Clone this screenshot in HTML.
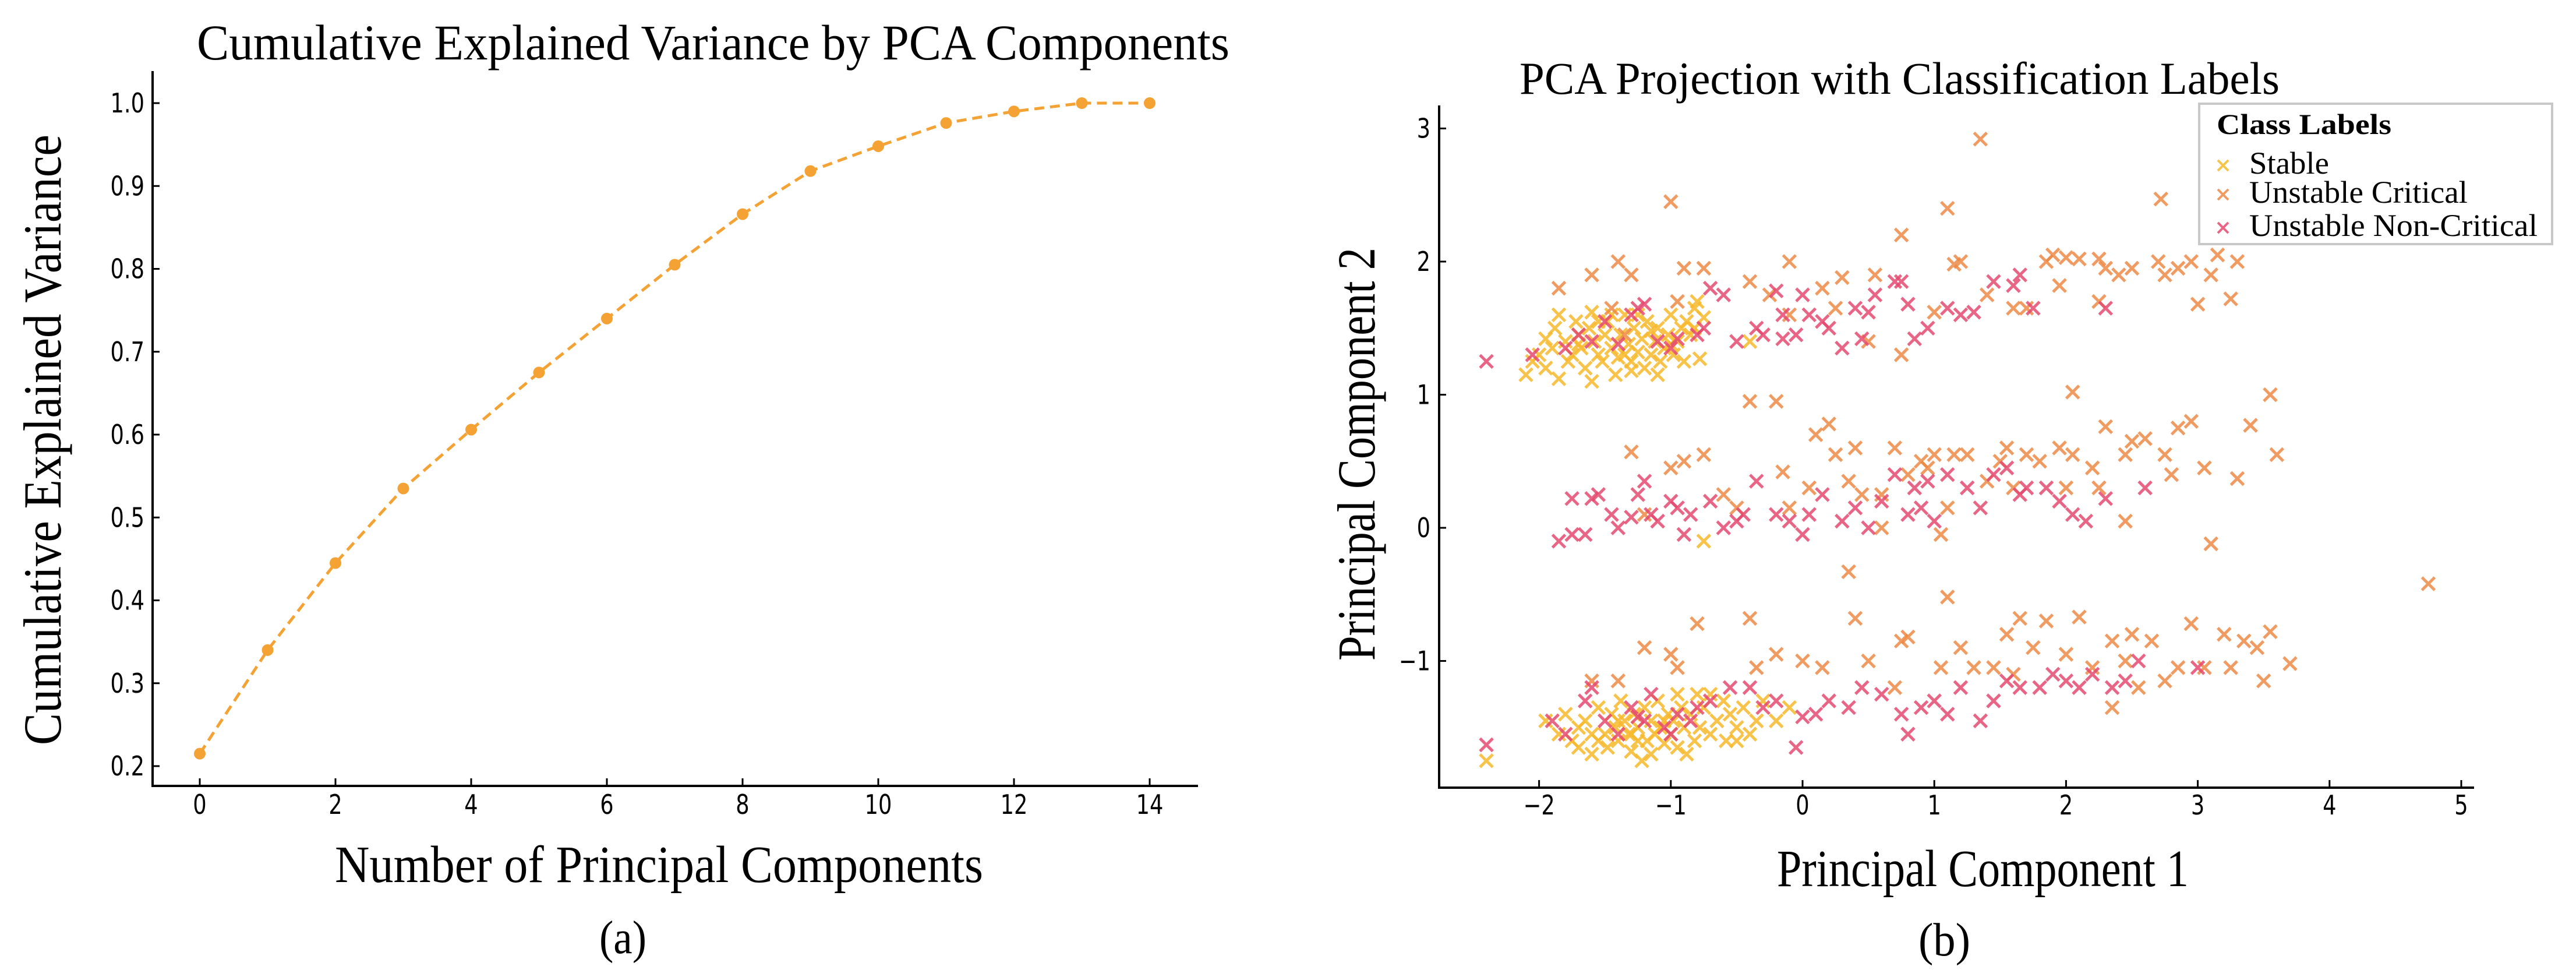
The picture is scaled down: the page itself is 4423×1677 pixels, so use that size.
<!DOCTYPE html>
<html><head><meta charset="utf-8"><style>
html,body{margin:0;padding:0;background:#fff;}
svg{display:block;}
.serif{font-family:"Liberation Serif",serif;fill:#000;}
.sans{font-family:"DejaVu Sans","Liberation Sans",sans-serif;fill:#000;}
</style></head><body>
<svg id="fig" width="4423" height="1677" viewBox="0 0 4423 1677" xmlns="http://www.w3.org/2000/svg">
<g id="chartA"></g>
<g id="chartB"></g>
</svg>
<script>
// ---------- Chart A data ----------
const compIdx = [0,1,2,3,4,5,6,7,8,9,10,11,12,13,14];
const cumVar = [0.215,0.34,0.445,0.535,0.606,0.675,0.74,0.805,0.866,0.918,0.948,0.976,0.99,1.0,1.0];
const aXTicks = [0,2,4,6,8,10,12,14];
const aYTicks = ["0.2","0.3","0.4","0.5","0.6","0.7","0.8","0.9","1.0"];
// ---------- Chart B data ----------
const bXTicks = ["-2","-1","0","1","2","3","4","5"];
const bYTicks = ["-1","0","1","2","3"];
const classNames = ["Stable","Unstable Critical","Unstable Non-Critical"];
const stablePts = [[-2.1,1.15],[-2.05,1.25],[-2.0,1.3],[-1.95,1.2],[-1.9,1.35],[-1.88,1.5],[-1.85,1.6],[-1.8,1.4],[-1.78,1.25],[-1.75,1.3],[-1.72,1.55],[-1.7,1.45],[-1.68,1.35],[-1.65,1.2],[-1.62,1.5],[-1.6,1.62],[-1.58,1.4],[-1.55,1.3],[-1.52,1.25],[-1.5,1.45],[-1.48,1.55],[-1.45,1.35],[-1.42,1.15],[-1.4,1.28],[-1.38,1.45],[-1.35,1.6],[-1.32,1.38],[-1.3,1.25],[-1.28,1.5],[-1.25,1.32],[-1.22,1.42],[-1.2,1.2],[-1.18,1.55],[-1.15,1.3],[-1.12,1.4],[-1.1,1.5],[-1.08,1.25],[-1.05,1.35],[-1.02,1.45],[-1.0,1.6],[-0.98,1.3],[-0.95,1.4],[-0.92,1.5],[-0.9,1.25],[-0.88,1.55],[-0.85,1.45],[-0.82,1.65],[-0.8,1.7],[-0.78,1.27],[-0.75,1.58],[-1.6,1.1],[-1.85,1.12],[-1.3,1.18],[-1.1,1.15],[-0.4,1.4],[-1.45,1.6],[-1.7,1.38],[-1.25,1.6],[-1.95,1.42],[-1.55,1.55],[-0.82,1.5],[-1.0,1.38],[-1.15,1.48],[-1.35,1.3],
[-0.75,-0.1],
[-2.4,-1.75],[-1.95,-1.45],[-1.85,-1.55],[-1.8,-1.4],[-1.75,-1.6],[-1.7,-1.5],[-1.65,-1.45],[-1.6,-1.7],[-1.55,-1.35],[-1.5,-1.55],[-1.48,-1.65],[-1.45,-1.4],[-1.42,-1.5],[-1.4,-1.6],[-1.38,-1.3],[-1.35,-1.45],[-1.32,-1.55],[-1.3,-1.68],[-1.28,-1.4],[-1.25,-1.5],[-1.22,-1.75],[-1.2,-1.35],[-1.18,-1.6],[-1.15,-1.45],[-1.12,-1.55],[-1.1,-1.3],[-1.08,-1.5],[-1.05,-1.62],[-1.02,-1.4],[-1.0,-1.55],[-0.98,-1.45],[-0.95,-1.65],[-0.92,-1.35],[-0.9,-1.5],[-0.88,-1.7],[-0.85,-1.4],[-0.82,-1.6],[-0.8,-1.25],[-0.78,-1.5],[-0.75,-1.35],[-0.7,-1.55],[-0.65,-1.45],[-0.6,-1.3],[-0.58,-1.6],[-0.55,-1.4],[-0.5,-1.5],[-0.45,-1.35],[-0.4,-1.55],[-0.35,-1.45],[-0.3,-1.3],[-0.2,-1.45],[-0.1,-1.35],[-1.6,-1.55],[-1.3,-1.55],[-1.15,-1.7],[-1.4,-1.45],[-0.95,-1.25],[-1.05,-1.45],[-1.25,-1.6],[-0.7,-1.25],[-0.5,-1.6],[-1.7,-1.65],[-1.55,-1.6]];
const criticalPts = [[-1.85,1.8],[-1.6,1.9],[-1.4,2.0],[-1.3,1.9],[-1.0,2.45],[-0.9,1.95],[-0.75,1.95],[-0.95,1.7],[-0.4,1.85],[-0.1,2.0],[-0.25,1.75],[0.15,1.8],[0.25,1.65],[0.55,1.9],[0.3,1.88],[0.75,2.2],[0.75,1.3],[1.1,2.4],[1.2,2.0],[1.15,1.98],[1.35,2.92],[1.4,1.75],[1.6,1.65],[1.7,1.65],[1.85,2.0],[1.95,1.82],[2.0,2.03],[2.1,2.02],[2.25,2.02],[2.25,1.7],[2.4,1.9],[2.5,1.95],[2.7,2.0],[2.72,2.47],[2.75,1.9],[2.85,1.95],[3.0,1.68],[3.1,1.9],[3.15,2.05],[3.3,2.0],[3.25,1.72],[2.95,2.0],[-1.45,1.65],[0.5,1.4],[1.0,1.62],[-0.1,1.6],[-1.35,1.45],[2.3,1.95],[1.9,2.05],
[-1.3,0.57],[-1.2,0.1],[-1.0,0.45],[-0.9,0.5],[-0.75,0.55],[-0.6,0.25],[-0.4,0.95],[-0.2,0.95],[-0.15,0.42],[-0.1,0.15],[0.05,0.3],[0.1,0.7],[0.2,0.78],[0.25,0.55],[0.35,0.35],[0.4,0.6],[0.45,0.25],[0.6,0.25],[0.7,0.6],[0.8,0.4],[0.9,0.5],[0.95,0.45],[1.0,0.55],[1.05,-0.05],[1.15,0.55],[1.25,0.55],[1.4,0.35],[1.5,0.5],[1.55,0.6],[1.6,0.3],[1.7,0.55],[1.8,0.5],[1.95,0.6],[2.05,0.55],[2.05,1.02],[2.2,0.45],[2.25,0.3],[2.3,0.76],[2.45,0.55],[2.5,0.65],[2.6,0.67],[2.75,0.55],[2.85,0.75],[2.95,0.8],[3.05,0.45],[3.1,-0.12],[3.3,0.37],[3.4,0.77],[3.6,0.55],[3.55,1.0],[2.8,0.4],[2.45,0.05],[0.35,-0.33],[0.4,-0.68],[1.1,0.15],[2.0,0.3],[-0.5,0.15],[0.6,0.0],
[-1.6,-1.15],[-1.4,-1.15],[-1.2,-0.9],[-1.0,-0.95],[-0.95,-1.05],[-0.8,-0.72],[-0.4,-0.68],[-0.35,-1.05],[-0.2,-0.95],[0.0,-1.0],[0.15,-1.05],[0.5,-1.0],[0.75,-0.85],[0.8,-0.82],[1.1,-0.52],[1.05,-1.05],[1.2,-0.9],[1.3,-1.05],[1.45,-1.05],[1.55,-0.8],[1.65,-0.68],[1.75,-0.9],[1.85,-0.7],[2.0,-0.95],[2.1,-0.67],[2.35,-1.35],[2.35,-0.85],[2.45,-1.0],[2.5,-0.8],[2.55,-1.2],[2.65,-0.85],[2.75,-1.15],[2.85,-1.05],[2.95,-0.72],[3.05,-1.05],[3.2,-0.8],[3.25,-1.05],[3.35,-0.85],[3.45,-0.9],[3.5,-1.15],[3.55,-0.78],[3.7,-1.02],[4.75,-0.42],[0.7,-1.2],[1.6,-1.1],[2.2,-1.05]];
const nonCriticalPts = [[-2.4,1.25],[-2.05,1.3],[-1.8,1.35],[-1.6,1.4],[-1.5,1.55],[-1.3,1.6],[-1.25,1.65],[-1.2,1.68],[-1.4,1.38],[-1.0,1.35],[-0.95,1.42],[-0.75,1.5],[-0.7,1.8],[-0.6,1.75],[-0.5,1.4],[-0.35,1.5],[-0.3,1.45],[-0.2,1.78],[-0.15,1.6],[-0.15,1.42],[0.0,1.75],[0.05,1.6],[0.15,1.55],[0.2,1.5],[0.3,1.35],[0.4,1.65],[0.5,1.62],[0.45,1.42],[0.55,1.75],[0.7,1.85],[0.75,1.85],[0.8,1.68],[0.85,1.42],[0.95,1.5],[1.1,1.65],[1.2,1.6],[1.3,1.62],[1.45,1.85],[1.6,1.82],[1.65,1.9],[1.75,1.65],[2.3,1.65],[-1.1,1.4],[-0.8,1.45],[-1.7,1.45],[-0.05,1.45],
[-1.85,-0.1],[-1.75,-0.05],[-1.65,-0.05],[-1.75,0.22],[-1.6,0.22],[-1.55,0.25],[-1.45,0.1],[-1.4,0.0],[-1.3,0.08],[-1.25,0.25],[-1.2,0.35],[-1.15,0.1],[-1.1,0.05],[-1.0,0.2],[-0.95,0.15],[-0.9,-0.05],[-0.85,0.1],[-0.7,0.2],[-0.6,0.0],[-0.5,0.05],[-0.45,0.1],[-0.35,0.35],[-0.2,0.1],[-0.1,0.05],[0.0,-0.05],[0.05,0.1],[0.15,0.25],[0.3,0.05],[0.4,0.15],[0.5,0.0],[0.6,0.2],[0.8,0.1],[0.85,0.3],[0.9,0.15],[0.95,0.35],[1.0,0.05],[1.1,0.4],[1.25,0.3],[1.35,0.15],[1.45,0.4],[1.55,0.45],[1.7,0.3],[1.85,0.3],[1.95,0.2],[2.05,0.1],[2.15,0.05],[2.3,0.22],[2.6,0.3],[0.7,0.4],[1.65,0.25],
[-2.4,-1.63],[-1.9,-1.45],[-1.8,-1.55],[-1.65,-1.3],[-1.6,-1.2],[-1.5,-1.45],[-1.4,-1.55],[-1.3,-1.35],[-1.25,-1.42],[-1.15,-1.25],[-1.05,-1.5],[-0.95,-1.4],[-0.85,-1.45],[-0.7,-1.3],[-0.55,-1.2],[-0.4,-1.2],[-0.3,-1.35],[-0.2,-1.3],[-0.05,-1.65],[0.0,-1.42],[0.1,-1.4],[0.2,-1.3],[0.35,-1.35],[0.45,-1.2],[0.6,-1.25],[0.75,-1.4],[0.8,-1.55],[0.9,-1.35],[1.0,-1.3],[1.1,-1.4],[1.2,-1.2],[1.35,-1.45],[1.45,-1.3],[1.55,-1.15],[1.65,-1.2],[1.8,-1.2],[1.9,-1.1],[2.0,-1.15],[2.1,-1.2],[2.2,-1.1],[2.35,-1.2],[2.45,-1.15],[2.55,-1.0],[3.0,-1.05],[-1.0,-1.55],[-1.2,-1.45],[-0.8,-1.35]];

const NS="http://www.w3.org/2000/svg";
function mk(parent,tag,attrs,text){const e=document.createElementNS(NS,tag);for(const k in attrs)e.setAttribute(k,attrs[k]);if(text!==undefined)e.textContent=text;parent.appendChild(e);return e;}

// ---------- Chart A ----------
const gA=document.getElementById('chartA');
const ax=v=>343+(v-0)*116.5;
const ay=v=>1315-(v-0.2)*1422.5;
let e;
e=mk(gA,'line',{x1:262,y1:122,x2:262,y2:1349,stroke:'#000','stroke-width':4});


e=mk(gA,'line',{x1:260,y1:1349,x2:2057,y2:1349,stroke:'#000','stroke-width':4});


aXTicks.forEach(t=>{
  const x=ax(t);
  e=mk(gA,'line',{x1:x,y1:1349,x2:x,y2:1336,stroke:'#000','stroke-width':3});
  
  
  e=mk(gA,'text',{class:'sans','font-size':46,'text-anchor':'middle',transform:`translate(${x},1397) scale(0.8,1)`},String(t));
  
  
});
aYTicks.forEach(t=>{
  const y=ay(parseFloat(t));
  e=mk(gA,'line',{x1:262,y1:y,x2:274,y2:y,stroke:'#000','stroke-width':3});
  
  
  e=mk(gA,'text',{class:'sans','font-size':46,'text-anchor':'end',transform:`translate(248,${y+16}) scale(0.8,1)`},t);
  
  
});
const pts=compIdx.map((c,i)=>`${ax(c)},${ay(cumVar[i])}`).join(' ');
e=mk(gA,'polyline',{points:pts,fill:'none',stroke:'#f4a234','stroke-width':5,'stroke-dasharray':'17 10'});


compIdx.forEach((c,i)=>{
  e=mk(gA,'circle',{cx:ax(c),cy:ay(cumVar[i]),r:10,fill:'#f4a234'});
  
  
});
e=mk(gA,'text',{class:'serif','font-size':86,x:338,y:102,textLength:1773,lengthAdjust:'spacingAndGlyphs'},'Cumulative Explained Variance by PCA Components');


e=mk(gA,'text',{class:'serif','font-size':90,x:575,y:1514,textLength:1113,lengthAdjust:'spacingAndGlyphs'},'Number of Principal Components');


e=mk(gA,'text',{class:'serif','font-size':92,transform:'translate(104,1279) rotate(-90)',x:0,y:0,textLength:1048,lengthAdjust:'spacingAndGlyphs'},'Cumulative Explained Variance');


e=mk(gA,'text',{class:'serif','font-size':80,x:1029,y:1636,textLength:81,lengthAdjust:'spacingAndGlyphs'},'(a)');



// ---------- Chart B ----------
const gB=document.getElementById('chartB');
const bx=v=>3095+v*226.2;
const by=v=>906-v*228.5;
e=mk(gB,'line',{x1:2471,y1:181,x2:2471,y2:1352,stroke:'#000','stroke-width':4});


e=mk(gB,'line',{x1:2469,y1:1352,x2:4248,y2:1352,stroke:'#000','stroke-width':4});


bXTicks.forEach(t=>{
  const x=bx(parseFloat(t));
  e=mk(gB,'line',{x1:x,y1:1352,x2:x,y2:1339,stroke:'#000','stroke-width':3});
  
  
  e=mk(gB,'text',{class:'sans','font-size':46,'text-anchor':'middle',transform:`translate(${x},1398) scale(0.8,1)`},t.replace('-','\u2212'));
  
  
});
bYTicks.forEach(t=>{
  const y=by(parseFloat(t));
  e=mk(gB,'line',{x1:2471,y1:y,x2:2483,y2:y,stroke:'#000','stroke-width':3});
  
  
  e=mk(gB,'text',{class:'sans','font-size':46,'text-anchor':'end',transform:`translate(2456,${y+16}) scale(0.8,1)`},t.replace('-','\u2212'));
  
  
});
const colors=['#f7b92c','#ec8a45','#e44a70'];
const sets=[stablePts,criticalPts,nonCriticalPts];
const setNames=['stable-points','unstable-critical-points','unstable-non-critical-points'];
function cross(g,x,y,s,col,w){
  return mk(g,'path',{d:`M${x-s},${y-s}L${x+s},${y+s}M${x-s},${y+s}L${x+s},${y-s}`,stroke:col,'stroke-width':w,fill:'none','stroke-opacity':0.85});
}
sets.forEach((arr,si)=>{
  const g=mk(gB,'g',{});
  
  
  arr.forEach(p=>{
    const m=cross(g,bx(p[0]),by(p[1]),11,colors[si],5);
    
    
  });
});
e=mk(gB,'text',{class:'serif','font-size':78,x:2609,y:161,textLength:1305,lengthAdjust:'spacingAndGlyphs'},'PCA Projection with Classification Labels');


e=mk(gB,'text',{class:'serif','font-size':90,x:3051,y:1521,textLength:707,lengthAdjust:'spacingAndGlyphs'},'Principal Component 1');


e=mk(gB,'text',{class:'serif','font-size':92,transform:'translate(2360,1134) rotate(-90)',x:0,y:0,textLength:709,lengthAdjust:'spacingAndGlyphs'},'Principal Component 2');


e=mk(gB,'text',{class:'serif','font-size':80,x:3294,y:1640,textLength:89,lengthAdjust:'spacingAndGlyphs'},'(b)');


// legend
const lg=mk(gB,'g',{});


e=mk(lg,'rect',{x:3776,y:178,width:606,height:241,fill:'#fff',stroke:'#c8c8c8','stroke-width':4});


e=mk(lg,'text',{class:'serif','font-size':50,'font-weight':'bold',x:3806,y:230,textLength:300,lengthAdjust:'spacingAndGlyphs'},'Class Labels');


const legY=[298,348,405];
const legW=[137,375,495];
classNames.forEach((n,i)=>{
  const m=cross(lg,3817,legY[i]-14,9,colors[i],4);
  
  
  e=mk(lg,'text',{class:'serif','font-size':54,x:3862,y:legY[i],textLength:legW[i],lengthAdjust:'spacingAndGlyphs'},n);
  
  
});
</script>
</body></html>
